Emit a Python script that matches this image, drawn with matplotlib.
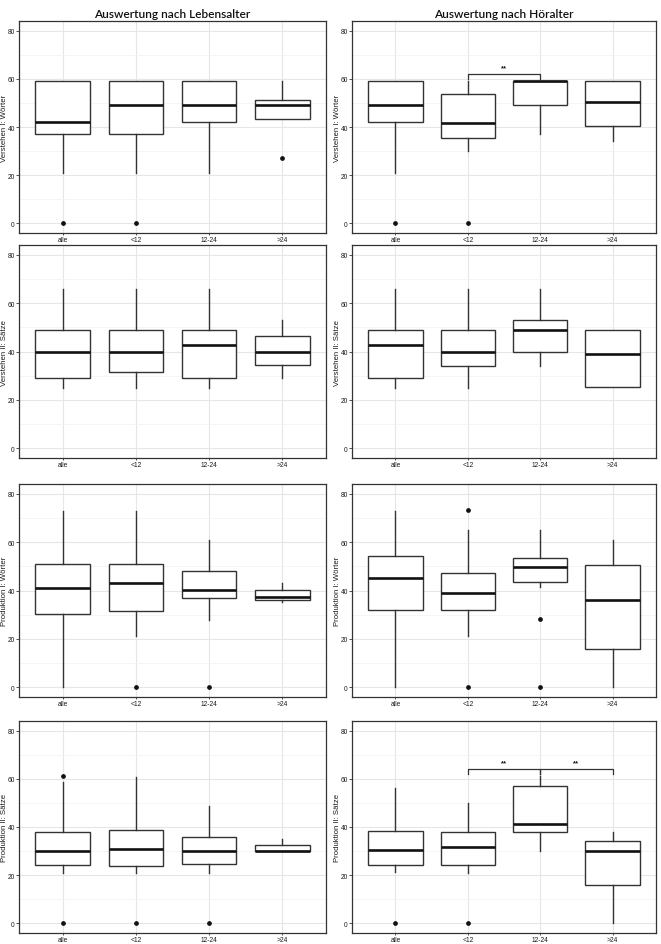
import matplotlib
matplotlib.use("Agg")
import matplotlib.pyplot as plt
from matplotlib.ticker import MultipleLocator

categories = ["alle", "<12", "12-24", ">24"]
measures = ["Verstehen I: Wörter", "Verstehen II: Sätze", "Produktion I: Wörter", "Produktion II: Sätze"]
column_titles = ["Auswertung nach Lebensalter", "Auswertung nach Höralter"]

# ---- Auswertung nach Lebensalter (rows = measures, cols = categories) ----
leb_whislo = [[21, 21, 21, 43.3], [25, 25, 25, 29], [0, 21, 28, 35.2], [21, 21, 21, 30]]
leb_q1 = [[37, 37, 42, 43.3], [29, 31.6, 29, 34.6], [30.2, 31.5, 37, 36.1], [24.1, 24, 24.6, 30]]
leb_med = [[42, 49, 49, 49], [40, 40, 42.7, 40], [41.2, 43.1, 40.1, 37.2], [30.1, 30.9, 30.1, 30.1]]
leb_q3 = [[59, 59, 59, 51.4], [49, 49, 49, 46.6], [51.1, 51, 48.1, 40.1], [38.1, 38.9, 36, 32.4]]
leb_whishi = [[59, 59, 59, 59], [66, 66, 66, 53], [73, 73, 61, 43.1], [58.8, 60.8, 48.9, 34.9]]
leb_fliers = [[[0], [0], [], [27]], [[], [], [], []], [[], [0], [0], []], [[61, 0], [0], [0], []]]

# ---- Auswertung nach Höralter ----
hor_whislo = [[21, 30, 37, 34], [25, 25, 34.2, 25.2], [0, 21.2, 41.3, 0], [21.2, 21, 30.1, 0]]
hor_q1 = [[42, 35.4, 49, 40.6], [29, 34.2, 40, 25.2], [32.1, 32.1, 43.5, 15.8], [24.1, 24.1, 38.1, 15.8]]
hor_med = [[49, 41.8, 59, 50.5], [42.6, 40, 48.9, 38.9], [45.2, 39.1, 49.6, 36.1], [30.4, 31.5, 41.1, 30.1]]
hor_q3 = [[59, 53.8, 59, 59], [49, 49, 53, 49], [54.1, 47.4, 53.4, 50.7], [38.5, 38.1, 57, 34.1]]
hor_whishi = [[59, 59, 59, 59], [66, 66, 66, 49], [73, 65.1, 65.1, 61], [56.1, 49.9, 61, 38.1]]
hor_fliers = [[[0], [0], [], []], [[], [], [], []], [[], [73.3, 0], [28.1, 0], []], [[0], [0], [], []]]

# significance brackets: (row, from category idx, to category idx, y level, label)
hor_brackets = [(0, 1, 2, 62.1, "**"), (3, 1, 2, 64.2, "**"), (3, 2, 3, 64.2, "**")]

fig = plt.figure(figsize=(6.61, 9.45), dpi=100)
W, H = 661.0, 945.0
col_x = [(19, 326), (352, 656)]
row_y = [(22, 234), (246, 459), (485, 698), (722, 934)]

grid_col = "#E6E6E6"
text_col = "#1a1a1a"

groups = [
    (leb_whislo, leb_q1, leb_med, leb_q3, leb_whishi, leb_fliers),
    (hor_whislo, hor_q1, hor_med, hor_q3, hor_whishi, hor_fliers),
]

for c, (wl, q1, md, q3, wh, fl) in enumerate(groups):
    x0, x1 = col_x[c]
    for r in range(4):
        y0, y1 = row_y[r]
        ax = fig.add_axes([x0 / W, 1 - y1 / H, (x1 - x0) / W, (y1 - y0) / H])
        stats = []
        for k in range(4):
            stats.append(dict(whislo=wl[r][k], q1=q1[r][k], med=md[r][k], q3=q3[r][k],
                              whishi=wh[r][k], fliers=fl[r][k], label=categories[k]))
        ax.bxp(stats, positions=[1, 2, 3, 4], widths=0.75, showcaps=False,
               patch_artist=True,
               boxprops=dict(facecolor="white", edgecolor="#333333", linewidth=1.0),
               whiskerprops=dict(color="#333333", linewidth=1.0),
               medianprops=dict(color="#111111", linewidth=1.9),
               flierprops=dict(marker="o", markerfacecolor="#111111", markeredgecolor="#111111",
                               markersize=2.4, linestyle="none"),
               zorder=3)
        ax.set_xlim(0.4, 4.6)
        ax.set_ylim(-4, 84)
        ax.yaxis.set_major_locator(MultipleLocator(20))
        ax.yaxis.set_minor_locator(MultipleLocator(10))
        ax.grid(True, which="major", color=grid_col, linewidth=0.8, zorder=0)
        ax.grid(True, which="minor", axis="y", color="#F2F2F2", linewidth=0.5, zorder=0)
        ax.set_axisbelow(True)
        ax.set_xticks([1, 2, 3, 4])
        ax.set_xticklabels(categories, fontsize=4.8, color=text_col, family="Liberation Sans")
        for lab in ax.get_yticklabels():
            lab.set_fontsize(4.8)
            lab.set_color(text_col)
            lab.set_family("Liberation Sans")
        ax.tick_params(axis="y", which="major", length=2, width=0.6, color="#333333", pad=1.0)
        ax.tick_params(axis="x", which="major", length=1.6, width=0.6, color="#333333", pad=0.6)
        ax.tick_params(axis="y", which="minor", length=0)
        for sp in ax.spines.values():
            sp.set_color("#333333")
            sp.set_linewidth(0.9)
        ax.set_ylabel(measures[r], fontsize=5.6, color=text_col, family="Liberation Sans")
        ax.yaxis.set_label_coords(-0.036, 0.5)
        if r == 0:
            ax.set_title(column_titles[c], fontsize=8.6, family="Lato", fontweight="semibold",
                         color="#111111", pad=3)
        if c == 1:
            for (br, a, b, yv, lab) in hor_brackets:
                if br != r:
                    continue
                ax.plot([a + 1, a + 1, b + 1, b + 1], [yv - 2.1, yv, yv, yv - 2.1],
                        color="#333333", linewidth=0.9, zorder=4)
                ax.text((a + b) / 2 + 1, yv + 1.2, lab, ha="center", va="bottom",
                        fontsize=5.5, fontweight="bold", color="#111111", family="Liberation Sans")

fig.savefig("out.png", dpi=100)
